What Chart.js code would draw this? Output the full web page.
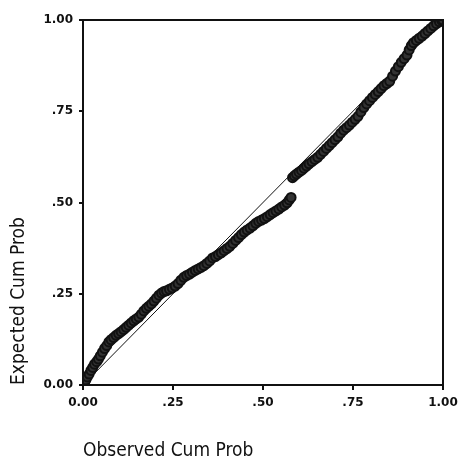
<!DOCTYPE html>
<html>
<head>
<meta charset="utf-8">
<script src="https://cdn.jsdelivr.net/npm/chart.js@4"></script>
<style>
  html, body { margin: 0; padding: 0; background: #fff; }
  canvas { display: block; }
</style>
</head>
<body>
<canvas id="ppChart" width="461" height="461"></canvas>
<script>
// Observed cum prob (x) and expected cum prob (y)
const observed = [
  0.000, 0.004, 0.008, 0.012, 0.017, 0.022, 0.027, 0.032, 0.038, 0.043,
  0.048, 0.054, 0.060, 0.066, 0.072, 0.078, 0.085, 0.092, 0.099, 0.106,
  0.113, 0.120, 0.127, 0.134, 0.141, 0.148, 0.155, 0.162, 0.169, 0.176,
  0.183, 0.190, 0.197, 0.204, 0.211, 0.218, 0.225, 0.232, 0.240, 0.248,
  0.256, 0.264, 0.272, 0.280, 0.288, 0.296, 0.304, 0.312, 0.320, 0.328,
  0.336, 0.344, 0.352, 0.360, 0.368, 0.376, 0.384, 0.392, 0.400, 0.408,
  0.416, 0.424, 0.432, 0.440, 0.448, 0.456, 0.464, 0.472, 0.480, 0.488,
  0.496, 0.504, 0.512, 0.520, 0.528, 0.536, 0.544, 0.552, 0.560, 0.567,
  0.573, 0.578,
  0.582, 0.587, 0.593, 0.600, 0.607, 0.614, 0.621, 0.628, 0.636, 0.644,
  0.652, 0.660, 0.668, 0.676, 0.684, 0.692, 0.700, 0.708, 0.716, 0.724,
  0.732, 0.740, 0.748, 0.756, 0.764, 0.772, 0.780, 0.788, 0.796, 0.804,
  0.812, 0.820, 0.828, 0.836, 0.844, 0.852, 0.860, 0.868, 0.876, 0.884,
  0.892, 0.900, 0.906, 0.912, 0.918, 0.926, 0.934, 0.942, 0.950, 0.958,
  0.966, 0.974, 0.982, 0.990, 0.996, 1.000
];
const expected = [
  0.000, 0.006, 0.014, 0.022, 0.030, 0.040, 0.048, 0.057, 0.064, 0.071,
  0.080, 0.090, 0.100, 0.108, 0.118, 0.124, 0.130, 0.136, 0.141, 0.146,
  0.152, 0.158, 0.164, 0.170, 0.176, 0.181, 0.186, 0.194, 0.203, 0.210,
  0.216, 0.222, 0.230, 0.238, 0.246, 0.252, 0.256, 0.258, 0.262, 0.266,
  0.271, 0.278, 0.287, 0.295, 0.300, 0.304, 0.309, 0.314, 0.318, 0.322,
  0.327, 0.333, 0.340, 0.348, 0.352, 0.357, 0.362, 0.368, 0.374, 0.380,
  0.388, 0.396, 0.404, 0.412, 0.419, 0.425, 0.430, 0.436, 0.443, 0.448,
  0.452, 0.456, 0.461, 0.467, 0.472, 0.477, 0.482, 0.488, 0.493, 0.499,
  0.507, 0.514,
  0.568, 0.573, 0.578, 0.583, 0.588, 0.594, 0.600, 0.606, 0.612, 0.618,
  0.624, 0.632, 0.640, 0.648, 0.656, 0.664, 0.672, 0.680, 0.690, 0.698,
  0.705, 0.712, 0.720, 0.728, 0.736, 0.748, 0.760, 0.770, 0.779, 0.788,
  0.796, 0.804, 0.812, 0.820, 0.826, 0.832, 0.846, 0.860, 0.872, 0.884,
  0.894, 0.904, 0.918, 0.930, 0.938, 0.944, 0.950, 0.956, 0.963, 0.970,
  0.977, 0.984, 0.990, 0.995, 0.999, 1.000
];

// reference diagonal
const diagX = [0, 1];
const diagY = [0, 1];

const tickValues = [0, 0.25, 0.5, 0.75, 1];
const tickLabels = ['0.00', '.25', '.50', '.75', '1.00'];

const xTitle = 'Observed Cum Prob';
const yTitle = 'Expected Cum Prob';

function tickText(v) {
  const i = tickValues.indexOf(Math.round(v * 100) / 100);
  return i >= 0 ? tickLabels[i] : '';
}

const points = observed.map((x, i) => ({ x: x, y: expected[i] }));
const diagonal = diagX.map((x, i) => ({ x: x, y: diagY[i] }));

// draw the frame round the plot area
const framePlugin = {
  id: 'frame',
  afterDraw(chart) {
    const a = chart.chartArea;
    const ctx = chart.ctx;
    ctx.save();
    ctx.strokeStyle = '#111';
    ctx.lineWidth = 2;
    ctx.strokeRect(a.left, a.top, a.right - a.left, a.bottom - a.top);
    ctx.restore();
  }
};

const tickFont = { family: 'DejaVu Sans', size: 12, weight: 'bold' };
const titleFont = { family: 'DejaVu Sans Condensed', size: 19, lineHeight: 1 };

new Chart(document.getElementById('ppChart'), {
  type: 'scatter',
  data: {
    datasets: [
      {
        data: diagonal,
        showLine: true,
        borderColor: '#111',
        borderWidth: 1,
        pointRadius: 0,
        order: 2
      },
      {
        data: points,
        pointRadius: 4.5,
        pointBorderWidth: 2,
        pointBorderColor: '#111',
        pointBackgroundColor: '#333',
        order: 1
      }
    ]
  },
  options: {
    responsive: false,
    animation: false,
    devicePixelRatio: 1,
    layout: { padding: { top: 20, right: 18, left: 0, bottom: 0 } },
    plugins: {
      legend: { display: false },
      tooltip: { enabled: false }
    },
    scales: {
      x: {
        type: 'linear',
        min: 0,
        max: 1,
        afterBuildTicks(scale) {
          scale.ticks = tickValues.map(v => ({ value: v }));
        },
        afterFit(scale) {
          scale.height = 76;
          scale.paddingLeft = 0;
          scale.paddingRight = 0;
        },
        ticks: {
          callback: v => tickText(v),
          color: '#111',
          font: tickFont,
          padding: 6,
          maxRotation: 0
        },
        grid: { drawOnChartArea: false, drawTicks: true, tickLength: 5, color: '#111', lineWidth: 2 },
        border: { display: true, color: '#111', width: 2 },
        title: {
          display: true,
          text: xTitle,
          align: 'start',
          color: '#111',
          font: titleFont,
          padding: { top: 0, bottom: 0 }
        }
      },
      y: {
        type: 'linear',
        min: 0,
        max: 1,
        afterBuildTicks(scale) {
          scale.ticks = tickValues.map(v => ({ value: v }));
        },
        afterFit(scale) {
          scale.width = 83;
          scale.paddingTop = 0;
          scale.paddingBottom = 0;
        },
        ticks: {
          callback: v => tickText(v),
          color: '#111',
          font: tickFont,
          padding: 6
        },
        grid: { drawOnChartArea: false, drawTicks: true, tickLength: 4, color: '#111', lineWidth: 2 },
        border: { display: true, color: '#111', width: 2 },
        title: {
          display: true,
          text: yTitle,
          align: 'start',
          color: '#111',
          font: titleFont,
          padding: { top: 10, bottom: 0 }
        }
      }
    }
  },
  plugins: [framePlugin]
});
</script>
</body>
</html>
